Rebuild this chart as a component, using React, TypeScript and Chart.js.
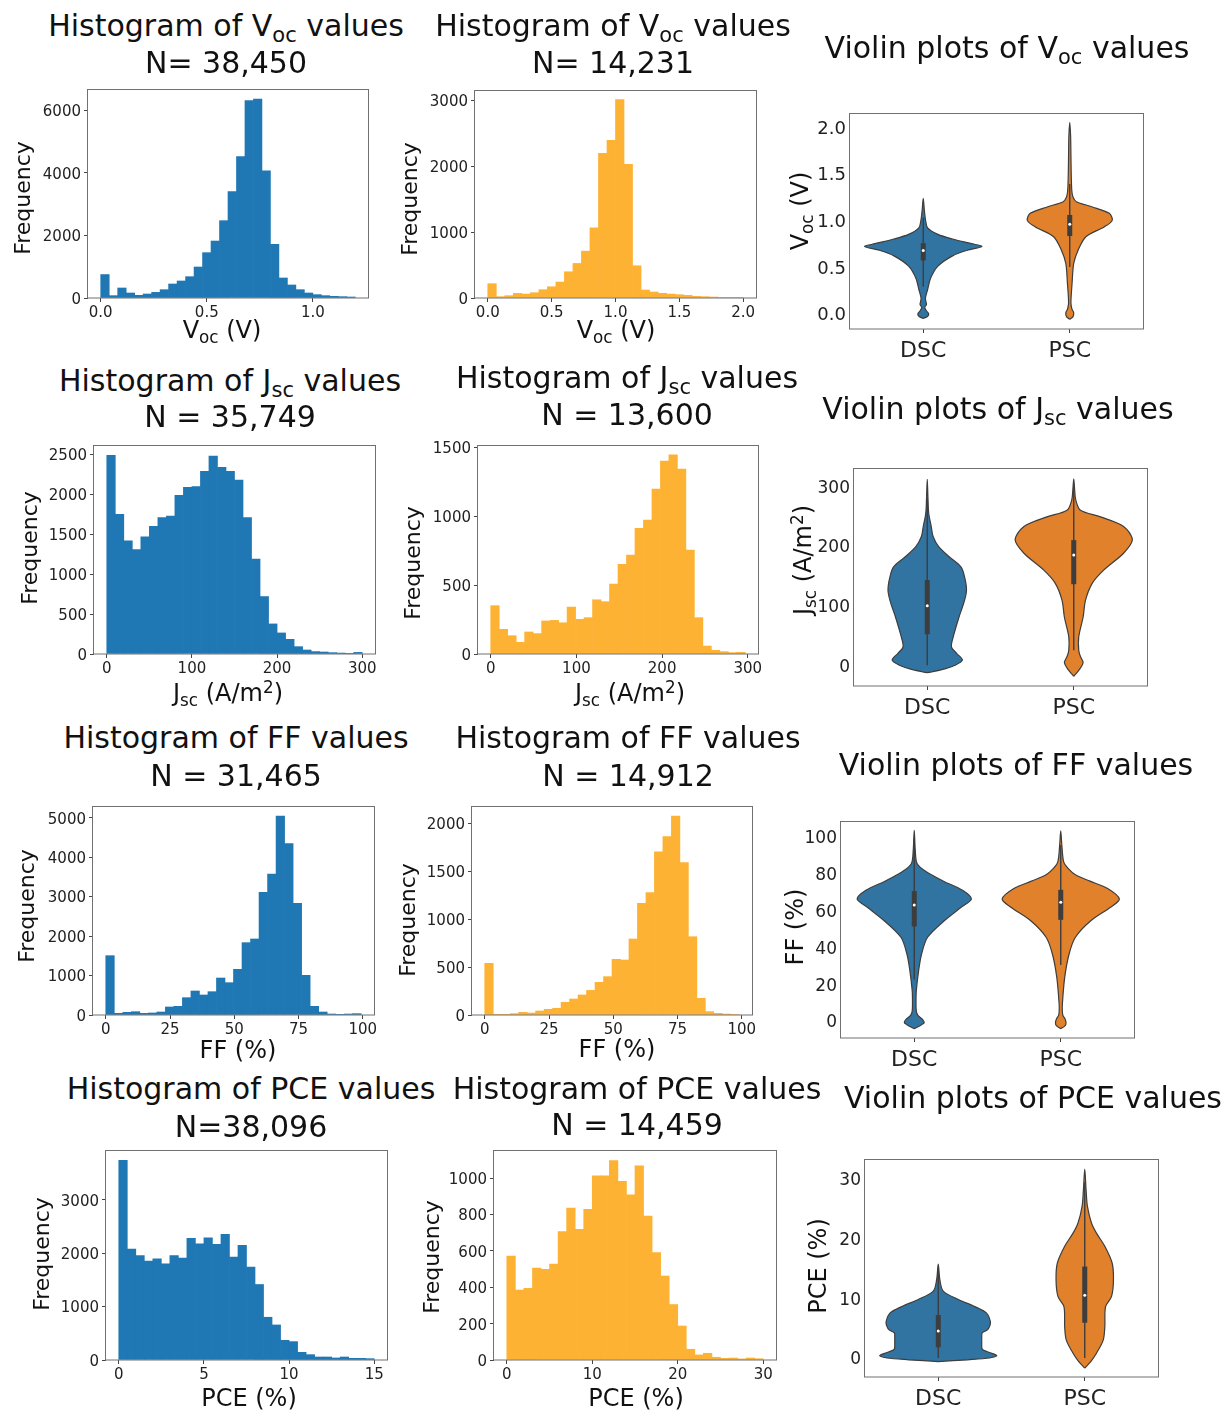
import React, { useEffect, useRef } from 'react';
import { Chart, registerables } from 'chart.js';

Chart.register(...registerables);

const FONT = '"DejaVu Sans", "Liberation Sans", sans-serif';
const HIST_BLUE = '#1f77b4';
const HIST_GOLD = '#fdb233';
const VIO_BLUE = '#3274a1';
const VIO_ORANGE = '#e1812c';
const EDGE = '#3d3d3d';

// ---------------- DATA ----------------
// Histograms: 30 equal bins spanning each range
const vocDscRange = [0, 1.2];
const vocDscCounts = [750, 75, 320, 160, 85, 128, 180, 266, 448, 544, 682, 991, 1450, 1822, 2473, 3400, 4519, 6310, 6363, 4071, 1716, 640, 416, 266, 160, 107, 75, 53, 43, 32];
const vocPscRange = [0, 2.0];
const vocPscCounts = [217, 20, 35, 70, 60, 80, 126, 171, 242, 398, 524, 711, 1064, 2193, 2390, 3010, 2027, 489, 121, 91, 71, 60, 50, 40, 25, 20, 15, 10, 10, 10];
const jscDscRange = [0, 300];
const jscDscCounts = [2490, 1750, 1420, 1310, 1470, 1600, 1710, 1730, 1989, 2090, 2100, 2290, 2480, 2340, 2290, 2180, 1710, 1190, 720, 377, 264, 184, 92, 50, 30, 25, 17, 12, 8, 20];
const jscPscRange = [0, 297];
const jscPscCounts = [351, 179, 133, 85, 160, 148, 240, 244, 227, 341, 252, 264, 394, 380, 508, 651, 719, 912, 973, 1198, 1401, 1447, 1343, 755, 264, 58, 27, 17, 10, 12];
const ffDscRange = [0, 99.4];
const ffDscCounts = [1503, 42, 68, 84, 42, 51, 76, 203, 220, 439, 608, 507, 591, 937, 819, 1157, 1833, 1926, 3108, 3573, 5042, 4341, 2829, 1005, 220, 76, 25, 17, 25, 34];
const ffPscRange = [0, 99];
const ffPscCounts = [539, 3, 7, 14, 28, 21, 42, 59, 70, 132, 167, 209, 257, 341, 400, 581, 574, 793, 1165, 1277, 1704, 1861, 2077, 1590, 817, 174, 35, 17, 10, 5];
const pceDscRange = [0, 15];
const pceDscCounts = [3737, 2075, 1956, 1850, 1894, 1800, 1956, 1906, 2275, 2175, 2288, 2163, 2350, 1925, 2144, 1738, 1413, 800, 656, 369, 344, 144, 100, 56, 56, 38, 56, 31, 31, 25];
const pcePscRange = [0, 30];
const pcePscCounts = [572, 385, 394, 505, 499, 527, 706, 835, 719, 829, 1013, 1013, 1097, 983, 908, 1068, 791, 591, 462, 305, 187, 59, 28, 37, 15, 9, 11, 6, 11, 7];

// Violin outlines: values (bottom to top) and half-widths (category units)
const vocDscY = [-0.05, -0.03, 0.0, 0.035, 0.07, 0.1, 0.13, 0.17, 0.26, 0.38, 0.51, 0.62, 0.68, 0.72, 0.75, 0.8, 0.85, 0.92, 1.0, 1.1, 1.235];
const vocDscW = [0, 0.028, 0.037, 0.02, 0.01, 0.022, 0.018, 0.015, 0.03, 0.05, 0.1, 0.2, 0.3, 0.4, 0.33, 0.2, 0.1, 0.03, 0.016, 0.008, 0];
const vocPscY = [-0.06, -0.03, 0.01, 0.05, 0.117, 0.33, 0.54, 0.68, 0.825, 0.93, 1.0, 1.075, 1.146, 1.2, 1.25, 1.32, 1.5, 1.7, 1.9, 2.05];
const vocPscW = [0, 0.022, 0.027, 0.015, 0.008, 0.016, 0.027, 0.057, 0.11, 0.235, 0.29, 0.27, 0.15, 0.045, 0.022, 0.014, 0.01, 0.008, 0.006, 0];
const jscDscY = [-12.5, -6, 0, 8.8, 20, 31, 50, 81, 105, 126, 149, 165, 182, 199, 216, 233, 255, 280, 312];
const jscDscW = [0, 0.12, 0.19, 0.24, 0.2, 0.165, 0.18, 0.217, 0.25, 0.268, 0.254, 0.23, 0.15, 0.078, 0.04, 0.027, 0.01, 0.005, 0];
const jscPscY = [-18.5, -10, -3, 5, 15, 25, 47.6, 81, 109, 137.5, 160, 188, 210.5, 233, 249, 260, 277, 295, 313];
const jscPscW = [0, 0.03, 0.05, 0.064, 0.045, 0.034, 0.034, 0.064, 0.08, 0.126, 0.206, 0.34, 0.4, 0.34, 0.183, 0.046, 0.014, 0.006, 0];
const ffDscY = [-4.2, -2, -0.9, 1, 3, 5.4, 10, 16.4, 27.4, 36.4, 45.5, 54.5, 61.8, 66.3, 71, 76, 81, 85.5, 92.8, 103.6];
const ffDscW = [0, 0.05, 0.068, 0.055, 0.025, 0.014, 0.012, 0.014, 0.03, 0.05, 0.091, 0.205, 0.32, 0.39, 0.33, 0.2, 0.085, 0.02, 0.007, 0];
const ffPscY = [-4.2, -2.5, -0.9, 1, 3, 5, 9.2, 23.7, 36.4, 45.5, 54.5, 61.8, 66.3, 72, 76, 79.5, 83, 86.5, 95, 103.3];
const ffPscW = [0, 0.03, 0.036, 0.03, 0.015, 0.011, 0.011, 0.027, 0.057, 0.1, 0.205, 0.34, 0.4, 0.32, 0.2, 0.1, 0.05, 0.02, 0.008, 0];
const pceDscY = [-0.6, -0.3, 0, 0.4, 1.0, 1.5, 2.5, 3.5, 4.2, 4.7, 5.4, 6.1, 7.5, 8.6, 9.8, 11.2, 13.1, 15.7];
const pceDscW = [0, 0.2, 0.35, 0.4, 0.34, 0.3, 0.297, 0.297, 0.3, 0.335, 0.352, 0.356, 0.33, 0.25, 0.137, 0.034, 0.011, 0];
const pcePscY = [-1.7, -0.6, 0.8, 3.0, 5.2, 8.6, 10.3, 13.1, 15.9, 18.7, 20.9, 22.6, 25.4, 28.2, 31.6];
const pcePscW = [0, 0.041, 0.08, 0.126, 0.137, 0.142, 0.183, 0.196, 0.187, 0.137, 0.08, 0.046, 0.018, 0.009, 0];

// Box stats: [whisker low, Q1, median, Q3, whisker high]
const vocDscBox = [0.29, 0.571, 0.676, 0.756, 1.03];
const vocPscBox = [0.5, 0.832, 0.959, 1.057, 1.39];
const jscDscBox = [0, 52, 100, 143, 279];
const jscPscBox = [25, 136, 185, 210, 300];
const ffDscBox = [22.6, 51.4, 63, 70.6, 99.4];
const ffPscBox = [30.5, 55, 64.5, 71.3, 95.7];
const pceDscBox = [0, 1.8, 4.5, 7.2, 15];
const pcePscBox = [0, 5.9, 10.5, 15.3, 29.4];

const groups = ['DSC', 'PSC'];
const groupPos = [0, 1];

// Tick values / labels
const vocDscXTicks = [0, 0.5, 1.0];
const vocDscXLabels = ['0.0', '0.5', '1.0'];
const vocDscYTicks = [0, 2000, 4000, 6000];
const vocPscXTicks = [0, 0.5, 1.0, 1.5, 2.0];
const vocPscXLabels = ['0.0', '0.5', '1.0', '1.5', '2.0'];
const vocPscYTicks = [0, 1000, 2000, 3000];
const vocVioTicks = [0, 0.5, 1.0, 1.5, 2.0];
const vocVioLabels = ['0.0', '0.5', '1.0', '1.5', '2.0'];
const jscXTicks = [0, 100, 200, 300];
const jscDscYTicks = [0, 500, 1000, 1500, 2000, 2500];
const jscPscYTicks = [0, 500, 1000, 1500];
const jscVioTicks = [0, 100, 200, 300];
const ffXTicks = [0, 25, 50, 75, 100];
const ffDscYTicks = [0, 1000, 2000, 3000, 4000, 5000];
const ffPscYTicks = [0, 500, 1000, 1500, 2000];
const ffVioTicks = [0, 20, 40, 60, 80, 100];
const pceDscXTicks = [0, 5, 10, 15];
const pceDscYTicks = [0, 1000, 2000, 3000];
const pcePscXTicks = [0, 10, 20, 30];
const pcePscYTicks = [0, 200, 400, 600, 800, 1000];
const pceVioTicks = [0, 10, 20, 30];

// Axis limits
const vocDscXLim = [-0.06, 1.26]; const vocDscYLim = [0, 6684];
const vocPscXLim = [-0.1, 2.1]; const vocPscYLim = [0, 3155];
const vocVioYLim = [-0.163, 2.149];
const jscDscXLim = [-15, 315]; const jscDscYLim = [0, 2620];
const jscPscXLim = [-14.85, 311.85]; const jscPscYLim = [0, 1518];
const jscVioYLim = [-34.8, 331];
const ffDscXLim = [-4.97, 104.37]; const ffDscYLim = [0, 5295];
const ffPscXLim = [-4.95, 103.95]; const ffPscYLim = [0, 2181];
const ffVioYLim = [-9.24, 108.7];
const pceDscXLim = [-0.75, 15.75]; const pceDscYLim = [0, 3930];
const pcePscXLim = [-1.5, 31.5]; const pcePscYLim = [0, 1155];
const pceVioYLim = [-3.18, 33.3];
const vioXLim = [-0.5, 1.5];

// ---------------- LAYOUT ----------------
const AXW = 75;
const AXH = 50;
const PADT = 20;
const PADR = 20;

const framePlugin = {
  id: 'frameBox',
  afterDatasetsDraw(chart: any) {
    const { ctx, chartArea: a } = chart;
    ctx.save();
    ctx.strokeStyle = '#707070';
    ctx.lineWidth = 1;
    ctx.strokeRect(Math.round(a.left) - 0.5, Math.round(a.top) + 0.5, Math.round(a.width) + 1, Math.round(a.height) - 0.5);
    ctx.restore();
  },
};

function axis(lim: number[], ticks: number[], labels: string[], size: number, isX: boolean, tickLen: number, pad: number) {
  return {
    type: 'linear',
    min: lim[0],
    max: lim[1],
    offset: false,
    grid: { display: true, drawOnChartArea: false, drawTicks: tickLen > 0, tickLength: tickLen, color: '#444', lineWidth: 1, offset: false },
    border: { display: false },
    afterBuildTicks: (s: any) => { s.ticks = ticks.map((v) => ({ value: v })); },
    afterFit: (s: any) => { if (isX) s.height = AXH; else s.width = AXW; },
    ticks: {
      autoSkip: false, maxRotation: 0, minRotation: 0, padding: pad, color: '#222',
      labelOffset: isX ? 0 : 2,
      font: { family: FONT, size },
      callback: (_v: any, i: number) => labels[i],
    },
  };
}

function baseOptions(x: any, y: any) {
  return {
    responsive: false,
    animation: false,
    events: [],
    layout: { padding: { top: PADT, right: PADR, left: 0, bottom: 0 }, autoPadding: false },
    plugins: { legend: { display: false }, tooltip: { enabled: false }, title: { display: false } },
    scales: { x, y },
  };
}

const str = (a: number[]) => a.map((v) => String(v));

function histConfig(counts: number[], range: number[], color: string, xLim: number[], xTicks: number[], xLabels: string[], yLim: number[], yTicks: number[]) {
  const w = (range[1] - range[0]) / counts.length;
  const data = counts.map((c, i) => ({ x: range[0] + (i + 0.5) * w, y: c }));
  return {
    type: 'bar',
    data: { datasets: [{ data, backgroundColor: color, borderWidth: 0, barPercentage: 1, categoryPercentage: 1 }] },
    options: baseOptions(axis(xLim, xTicks, xLabels, 15, true, 4, 2), axis(yLim, yTicks, str(yTicks), 15, false, 4, 3)),
    plugins: [framePlugin],
  };
}

type Vio = { y: number[]; w: number[]; box: number[]; color: string };

function violinConfig(vios: Vio[], yLim: number[], yTicks: number[], yLabels: string[], yFont: number) {
  const datasets: any[] = [];
  vios.forEach((v, k) => {
    const c = groupPos[k];
    const right = v.y.map((yy, i) => ({ x: c + v.w[i], y: yy }));
    const left = v.y.map((yy, i) => ({ x: c - v.w[i], y: yy })).reverse();
    const [lo, q1, med, q3, hi] = v.box;
    datasets.push({ data: [{ x: c, y: med }], showLine: false, pointRadius: 1.5, pointBackgroundColor: '#ffffff', pointBorderWidth: 0, order: 0 });
    datasets.push({ data: [{ x: c, y: q1 }, { x: c, y: q3 }], borderColor: EDGE, borderWidth: 5, borderCapStyle: 'butt', pointRadius: 0, order: 1 });
    datasets.push({ data: [{ x: c, y: lo }, { x: c, y: hi }], borderColor: EDGE, borderWidth: 1.4, pointRadius: 0, order: 2 });
    datasets.push({ data: [...right, ...left.slice(1)], fill: 'shape', backgroundColor: v.color, borderColor: EDGE, borderWidth: 1.2, pointRadius: 0, tension: 0.3, order: 3 });
  });
  return {
    type: 'line',
    data: { datasets },
    options: baseOptions(axis(vioXLim, groupPos, groups, 22, true, 4, 5), axis(yLim, yTicks, yLabels, yFont, false, 0, 4)),
    plugins: [framePlugin],
  };
}

function ChartCanvas({ frame, make }: { frame: number[]; make: () => any }) {
  const ref = useRef<HTMLCanvasElement | null>(null);
  const [L, T, W, H] = frame;
  const cw = AXW + W + PADR;
  const ch = PADT + H + AXH;
  useEffect(() => {
    const chart = new Chart(ref.current as HTMLCanvasElement, make());
    return () => chart.destroy();
  }, []);
  return (
    <canvas ref={ref} width={cw} height={ch}
      style={{ position: 'absolute', left: L - AXW, top: T - PADT, width: cw, height: ch }} />
  );
}

function Label({ x, y, size, rotate, children }: { x: number; y: number; size: number; rotate?: boolean; children: any }) {
  const lh = Math.round(size * 1.25);
  return (
    <div style={{
      position: 'absolute', left: x - 300, top: y - lh / 2, width: 600, height: lh, lineHeight: `${lh}px`,
      fontSize: size, fontFamily: FONT, textAlign: 'center', whiteSpace: 'nowrap', color: '#111',
      transform: rotate ? 'rotate(-90deg)' : undefined,
    }}>{children}</div>
  );
}

const Sub = ({ children }: { children: any }) => (
  <span style={{ fontSize: '0.7em', position: 'relative', top: '0.28em' }}>{children}</span>
);
const Sup = ({ children }: { children: any }) => (
  <span style={{ fontSize: '0.7em', position: 'relative', top: '-0.5em' }}>{children}</span>
);

const F1 = [88, 89, 280, 209];
const F2 = [475, 90, 281, 208];
const F3 = [850, 113, 293, 216];
const F4 = [94, 445, 281, 209];
const F5 = [478, 445, 280, 209];
const F6 = [854, 468, 293, 218];
const F7 = [93, 806, 281, 209];
const F8 = [472, 806, 280, 209];
const F9 = [841, 821, 293, 217];
const F10 = [106, 1150, 281, 210];
const F11 = [494, 1150, 282, 210];
const F12 = [865, 1159, 293, 218];

const VOC = <>V<Sub>oc</Sub></>;
const JSC = <>J<Sub>sc</Sub></>;

export default function App() {
  const T = 30;
  return (
    <div style={{ position: 'absolute', left: 0, top: 0, width: 1229, height: 1412, background: '#fff', overflow: 'hidden' }}>
      <ChartCanvas frame={F1} make={() => histConfig(vocDscCounts, vocDscRange, HIST_BLUE, vocDscXLim, vocDscXTicks, vocDscXLabels, vocDscYLim, vocDscYTicks)} />
      <ChartCanvas frame={F2} make={() => histConfig(vocPscCounts, vocPscRange, HIST_GOLD, vocPscXLim, vocPscXTicks, vocPscXLabels, vocPscYLim, vocPscYTicks)} />
      <ChartCanvas frame={F3} make={() => violinConfig([
        { y: vocDscY, w: vocDscW, box: vocDscBox, color: VIO_BLUE },
        { y: vocPscY, w: vocPscW, box: vocPscBox, color: VIO_ORANGE }], vocVioYLim, vocVioTicks, vocVioLabels, 18)} />
      <ChartCanvas frame={F4} make={() => histConfig(jscDscCounts, jscDscRange, HIST_BLUE, jscDscXLim, jscXTicks, str(jscXTicks), jscDscYLim, jscDscYTicks)} />
      <ChartCanvas frame={F5} make={() => histConfig(jscPscCounts, jscPscRange, HIST_GOLD, jscPscXLim, jscXTicks, str(jscXTicks), jscPscYLim, jscPscYTicks)} />
      <ChartCanvas frame={F6} make={() => violinConfig([
        { y: jscDscY, w: jscDscW, box: jscDscBox, color: VIO_BLUE },
        { y: jscPscY, w: jscPscW, box: jscPscBox, color: VIO_ORANGE }], jscVioYLim, jscVioTicks, str(jscVioTicks), 17)} />
      <ChartCanvas frame={F7} make={() => histConfig(ffDscCounts, ffDscRange, HIST_BLUE, ffDscXLim, ffXTicks, str(ffXTicks), ffDscYLim, ffDscYTicks)} />
      <ChartCanvas frame={F8} make={() => histConfig(ffPscCounts, ffPscRange, HIST_GOLD, ffPscXLim, ffXTicks, str(ffXTicks), ffPscYLim, ffPscYTicks)} />
      <ChartCanvas frame={F9} make={() => violinConfig([
        { y: ffDscY, w: ffDscW, box: ffDscBox, color: VIO_BLUE },
        { y: ffPscY, w: ffPscW, box: ffPscBox, color: VIO_ORANGE }], ffVioYLim, ffVioTicks, str(ffVioTicks), 17)} />
      <ChartCanvas frame={F10} make={() => histConfig(pceDscCounts, pceDscRange, HIST_BLUE, pceDscXLim, pceDscXTicks, str(pceDscXTicks), pceDscYLim, pceDscYTicks)} />
      <ChartCanvas frame={F11} make={() => histConfig(pcePscCounts, pcePscRange, HIST_GOLD, pcePscXLim, pcePscXTicks, str(pcePscXTicks), pcePscYLim, pcePscYTicks)} />
      <ChartCanvas frame={F12} make={() => violinConfig([
        { y: pceDscY, w: pceDscW, box: pceDscBox, color: VIO_BLUE },
        { y: pcePscY, w: pcePscW, box: pcePscBox, color: VIO_ORANGE }], pceVioYLim, pceVioTicks, str(pceVioTicks), 17)} />

      {/* Titles */}
      <Label x={226} y={26} size={T}>Histogram of {VOC} values</Label>
      <Label x={226} y={63} size={T}>N= 38,450</Label>
      <Label x={613} y={26} size={T}>Histogram of {VOC} values</Label>
      <Label x={613} y={63} size={T}>N= 14,231</Label>
      <Label x={1007} y={48} size={T}>Violin plots of {VOC} values</Label>

      <Label x={230} y={381} size={T}>Histogram of {JSC} values</Label>
      <Label x={230} y={417} size={T}>N = 35,749</Label>
      <Label x={627} y={378} size={T}>Histogram of {JSC} values</Label>
      <Label x={627} y={415} size={T}>N = 13,600</Label>
      <Label x={998} y={409} size={T}>Violin plots of {JSC} values</Label>

      <Label x={236} y={738} size={T}>Histogram of FF values</Label>
      <Label x={236} y={776} size={T}>N = 31,465</Label>
      <Label x={628} y={738} size={T}>Histogram of FF values</Label>
      <Label x={628} y={776} size={T}>N = 14,912</Label>
      <Label x={1016} y={765} size={T}>Violin plots of FF values</Label>

      <Label x={251} y={1089} size={T}>Histogram of PCE values</Label>
      <Label x={251} y={1127} size={T}>N=38,096</Label>
      <Label x={637} y={1089} size={T}>Histogram of PCE values</Label>
      <Label x={637} y={1125} size={T}>N = 14,459</Label>
      <Label x={1033} y={1098} size={T}>Violin plots of PCE values</Label>

      {/* Axis labels */}
      <Label x={23} y={198} size={22} rotate>Frequency</Label>
      <Label x={410} y={199} size={22} rotate>Frequency</Label>
      <Label x={222} y={330} size={24}>{VOC} (V)</Label>
      <Label x={616} y={330} size={24}>{VOC} (V)</Label>
      <Label x={800} y={211} size={24} rotate>{VOC} (V)</Label>

      <Label x={30} y={548} size={22} rotate>Frequency</Label>
      <Label x={413} y={563} size={22} rotate>Frequency</Label>
      <Label x={228} y={693} size={24}>{JSC} (A/m<Sup>2</Sup>)</Label>
      <Label x={630} y={693} size={24}>{JSC} (A/m<Sup>2</Sup>)</Label>
      <Label x={803} y={560} size={24} rotate>{JSC} (A/m<Sup>2</Sup>)</Label>

      <Label x={27} y={906} size={22} rotate>Frequency</Label>
      <Label x={408} y={920} size={22} rotate>Frequency</Label>
      <Label x={238} y={1050} size={24}>FF (%)</Label>
      <Label x={617} y={1049} size={24}>FF (%)</Label>
      <Label x={795} y={927} size={24} rotate>FF (%)</Label>

      <Label x={42} y={1254} size={22} rotate>Frequency</Label>
      <Label x={432} y={1257} size={22} rotate>Frequency</Label>
      <Label x={249} y={1398} size={24}>PCE (%)</Label>
      <Label x={636} y={1398} size={24}>PCE (%)</Label>
      <Label x={818} y={1266} size={24} rotate>PCE (%)</Label>
    </div>
  );
}
